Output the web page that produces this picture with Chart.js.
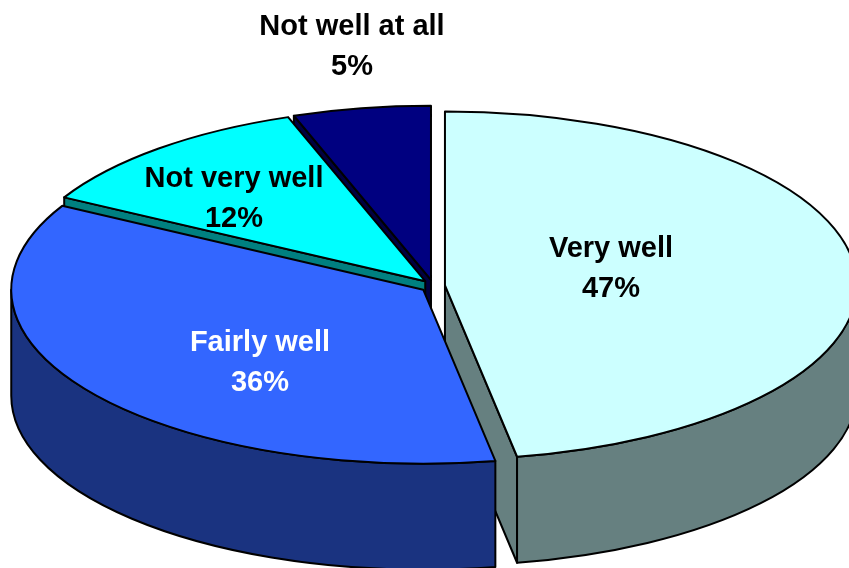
<!DOCTYPE html>
<html>
<head>
<meta charset="utf-8">
<style>html,body{margin:0;padding:0;background:#fff;overflow:hidden}canvas{display:block}</style>
<script src="https://cdn.jsdelivr.net/npm/chart.js@4"></script>
</head>
<body>
<canvas id="c" width="849" height="568"></canvas>
<script>
const categories = ["Very well", "Fairly well", "Not very well", "Not well at all"];
const values = [47.2, 35.8, 11.6, 5.4];
const valueLabels = ["47%", "36%", "12%", "5%"];
const topColors = ["#CCFFFF", "#3366FF", "#00FFFF", "#000080"];
const sideColors = ["#668080", "#1A3380", "#008080", "#000040"];
const labelColors = ["#000000", "#FFFFFF", "#000000", "#000000"];
const labelCentres = [[611, 249], [260, 343], [234, 179], [352, 27]];

const view = { cx: 433, cy: 286, rx: 412, ry: 174, depth: 106, explodeX: 12, explodeY: 6.3, lineGap: 40 };

function slicePaths(ctx, i, el) {
  const a1 = el.startAngle, a2 = el.endAngle, mid = (a1 + a2) / 2;
  const px = view.cx + Math.cos(mid) * view.explodeX;
  const py = view.cy + Math.sin(mid) * view.explodeY;
  const rim = a => [px + Math.cos(a) * view.rx, py + Math.sin(a) * view.ry];
  ctx.strokeStyle = "#000";
  ctx.lineWidth = 2;
  ctx.lineJoin = "round";
  ctx.fillStyle = sideColors[i];
  const quad = a => {
    const r = rim(a);
    ctx.beginPath();
    ctx.moveTo(px, py);
    ctx.lineTo(r[0], r[1]);
    ctx.lineTo(r[0], r[1] + view.depth);
    ctx.lineTo(px, py + view.depth);
    ctx.closePath();
    ctx.fill();
    ctx.stroke();
  };
  if (Math.cos(a1) < -1e-6) quad(a1);
  if (Math.cos(a2) > 1e-6) quad(a2);
  // outer wall: visible where the rim faces the viewer
  const from = Math.max(a1, 0), to = Math.min(a2, Math.PI);
  if (to > from) {
    ctx.beginPath();
    ctx.ellipse(px, py, view.rx, view.ry, 0, from, to);
    ctx.ellipse(px, py + view.depth, view.rx, view.ry, 0, to, from, true);
    ctx.closePath();
    ctx.fill();
    ctx.stroke();
  }
  // top face, drawn by the library's own arc element
  const R = el.outerRadius;
  ctx.save();
  ctx.translate(px, py);
  ctx.scale(view.rx / R, view.ry / R);
  ctx.translate(-el.x, -el.y);
  el.draw(ctx);
  ctx.restore();
  // outline of the top face
  ctx.beginPath();
  ctx.moveTo(px, py);
  ctx.ellipse(px, py, view.rx, view.ry, 0, a1, a2);
  ctx.closePath();
  ctx.stroke();
}

const pie3d = {
  id: "pie3d",
  beforeDatasetsDraw(chart) {
    const ctx = chart.ctx;
    const arcs = chart.getDatasetMeta(0).data;
    const order = arcs.map((el, i) => i).sort((p, q) =>
      Math.sin((arcs[p].startAngle + arcs[p].endAngle) / 2) -
      Math.sin((arcs[q].startAngle + arcs[q].endAngle) / 2));
    ctx.save();
    order.forEach(i => slicePaths(ctx, i, arcs[i]));
    ctx.font = 'bold 29px "Liberation Sans", Arial, sans-serif';
    ctx.textAlign = "center";
    ctx.textBaseline = "middle";
    categories.forEach((name, i) => {
      ctx.fillStyle = labelColors[i];
      ctx.fillText(name, labelCentres[i][0], labelCentres[i][1]);
      ctx.fillText(valueLabels[i], labelCentres[i][0], labelCentres[i][1] + view.lineGap);
    });
    ctx.restore();
    return false;
  }
};

new Chart(document.getElementById("c"), {
  type: "pie",
  data: {
    labels: categories,
    datasets: [{ data: values, backgroundColor: topColors, borderWidth: 0, clip: false }]
  },
  options: {
    responsive: false,
    animation: false,
    events: [],
    layout: { padding: 0 },
    plugins: { legend: { display: false }, tooltip: { enabled: false } }
  },
  plugins: [pie3d]
});
</script>
</body>
</html>
